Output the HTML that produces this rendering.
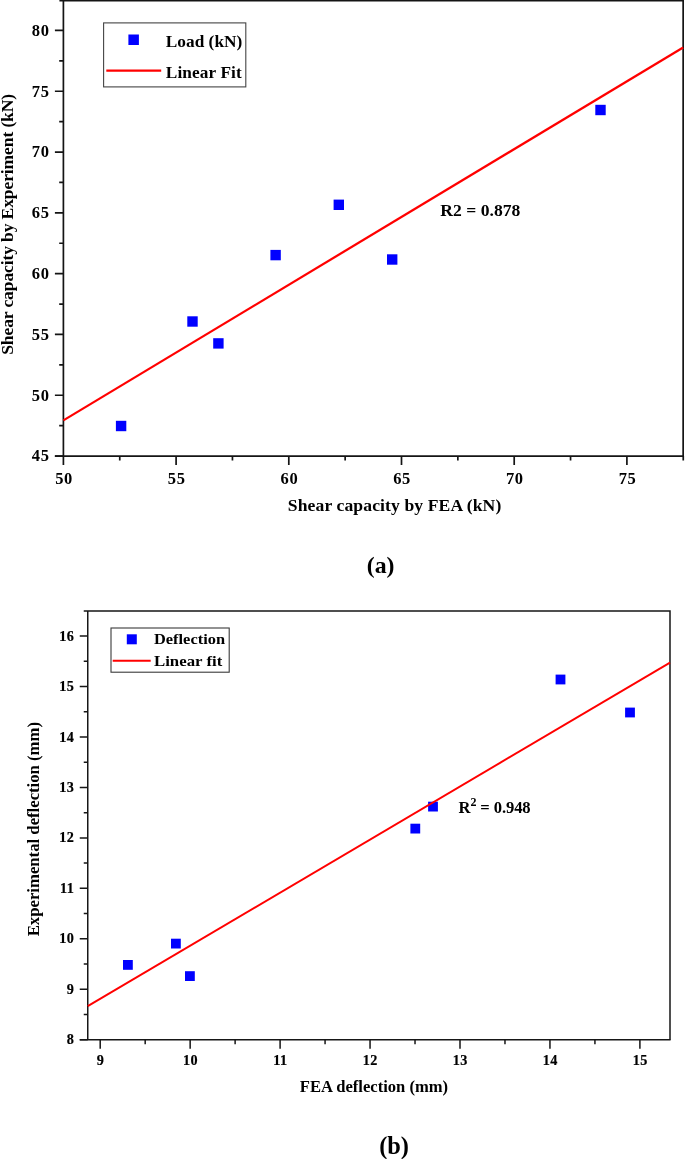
<!DOCTYPE html>
<html><head><meta charset="utf-8"><title>Linear fit charts</title>
<style>
html,body{margin:0;padding:0;background:#fff;}
body{width:685px;height:1159px;overflow:hidden;position:relative;}
svg{position:absolute;left:0;top:0;display:block;}
text{font-family:"Liberation Serif","Times New Roman",serif;font-weight:bold;fill:#000;}
#chartA .tk{font-size:16.5px;letter-spacing:0.6px;}
#chartA .ax{font-size:17.6px;}
#chartA .lg{font-size:17.3px;}
#chartB .tk{font-size:14.2px;letter-spacing:0.45px;stroke:#000;stroke-width:0.2px;}
#chartB .ax{font-size:15.4px;}
#chartB .lg{font-size:14.9px;}
.cap{font-size:23.8px;}
.ln{stroke:#000;fill:none;}
#chartA .ln{stroke-width:1.7;stroke:#141414;}
#chartB .ln{stroke-width:1.5;stroke:#161616;}
.red{stroke:#ff0000;fill:none;}
#chartA .red{stroke-width:2.25;}
#chartB .red{stroke-width:1.95;}
.pt{fill:#0000ff;}
.box{fill:#fff;stroke:#444;stroke-width:1.1;}
</style></head><body>
<svg width="685" height="1159" viewBox="0 0 685 1159">

<g id="chartA">
<path class="ln" d="M63.4 465.05V0.75M59.4 0.75H683.15V456.05"/>
<path class="ln" d="M54.9 456.05H683.85"/>
<text class="tk" x="49.5" y="461.35" text-anchor="end">45</text>
<text class="tk" x="49.5" y="400.55" text-anchor="end">50</text>
<text class="tk" x="49.5" y="339.75" text-anchor="end">55</text>
<text class="tk" x="49.5" y="278.95" text-anchor="end">60</text>
<text class="tk" x="49.5" y="218.15" text-anchor="end">65</text>
<text class="tk" x="49.5" y="157.35" text-anchor="end">70</text>
<text class="tk" x="49.5" y="96.55" text-anchor="end">75</text>
<text class="tk" x="49.5" y="35.75" text-anchor="end">80</text>
<text class="tk" x="64" y="484.05" text-anchor="middle">50</text>
<text class="tk" x="176.7" y="484.05" text-anchor="middle">55</text>
<text class="tk" x="289.4" y="484.05" text-anchor="middle">60</text>
<text class="tk" x="402.1" y="484.05" text-anchor="middle">65</text>
<text class="tk" x="514.8" y="484.05" text-anchor="middle">70</text>
<text class="tk" x="627.5" y="484.05" text-anchor="middle">75</text>
<path class="ln" d="M54.9 456.05H63.4M54.9 395.25H63.4M54.9 334.45H63.4M54.9 273.65H63.4M54.9 212.85H63.4M54.9 152.05H63.4M54.9 91.25H63.4M54.9 30.45H63.4M59.199999999999996 425.65H63.4M59.199999999999996 364.85H63.4M59.199999999999996 304.05H63.4M59.199999999999996 243.25H63.4M59.199999999999996 182.45H63.4M59.199999999999996 121.65H63.4M59.199999999999996 60.85H63.4M176.1 456.05V465.05M288.8 456.05V465.05M401.5 456.05V465.05M514.2 456.05V465.05M626.9 456.05V465.05M119.75 456.05V460.55M232.45 456.05V460.55M345.15 456.05V460.55M457.85 456.05V460.55M570.55 456.05V460.55M683.25 456.05V460.55"/>
<rect class="pt" x="115.89999999999999" y="420.8" width="10.4" height="10.4"/>
<rect class="pt" x="187.3" y="316.3" width="10.4" height="10.4"/>
<rect class="pt" x="213.20000000000002" y="338.2" width="10.4" height="10.4"/>
<rect class="pt" x="270.40000000000003" y="249.9" width="10.4" height="10.4"/>
<rect class="pt" x="333.6" y="199.60000000000002" width="10.4" height="10.4"/>
<rect class="pt" x="387.0" y="254.3" width="10.4" height="10.4"/>
<rect class="pt" x="595.3" y="104.8" width="10.4" height="10.4"/>
<path class="red" d="M63.4 420.4L683.15 47.5"/>
<rect class="box" x="103.6" y="22.9" width="142.2" height="64"/>
<rect class="pt" x="128.4" y="34.5" width="10.5" height="10.5"/>
<path class="red" d="M106.3 70.6H161.2"/>
<text class="lg" x="165.8" y="47.2" textLength="76.5">Load (kN)</text>
<text class="lg" x="165.8" y="78.1" textLength="76">Linear Fit</text>
<text class="ax" x="440.3" y="216.3" textLength="80">R2 = 0.878</text>
<text class="ax" x="287.8" y="510.6" textLength="213.5">Shear capacity by FEA (kN)</text>
<text class="ax" transform="translate(13,354.8) rotate(-90)" textLength="261">Shear capacity by Experiment (kN)</text>
<text class="cap" x="380.6" y="573" text-anchor="middle">(a)</text>
</g>
<g id="chartB">
<path class="ln" d="M87.75 1039.7V611.0M83.75 611.0H670.0V1039.7"/>
<path class="ln" d="M79.75 1039.7H670.6"/>
<text class="tk" x="74.3" y="1044.2" text-anchor="end">8</text>
<text class="tk" x="74.3" y="993.75" text-anchor="end">9</text>
<text class="tk" x="74.3" y="943.3" text-anchor="end">10</text>
<text class="tk" x="74.3" y="892.85" text-anchor="end">11</text>
<text class="tk" x="74.3" y="842.4" text-anchor="end">12</text>
<text class="tk" x="74.3" y="791.95" text-anchor="end">13</text>
<text class="tk" x="74.3" y="741.5" text-anchor="end">14</text>
<text class="tk" x="74.3" y="691.05" text-anchor="end">15</text>
<text class="tk" x="74.3" y="640.6" text-anchor="end">16</text>
<text class="tk" x="100.5" y="1065.4" text-anchor="middle">9</text>
<text class="tk" x="190.45" y="1065.4" text-anchor="middle">10</text>
<text class="tk" x="280.4" y="1065.4" text-anchor="middle">11</text>
<text class="tk" x="370.35" y="1065.4" text-anchor="middle">12</text>
<text class="tk" x="460.3" y="1065.4" text-anchor="middle">13</text>
<text class="tk" x="550.25" y="1065.4" text-anchor="middle">14</text>
<text class="tk" x="640.2" y="1065.4" text-anchor="middle">15</text>
<path class="ln" d="M79.75 1039.7H87.75M79.75 989.25H87.75M79.75 938.8H87.75M79.75 888.35H87.75M79.75 837.9H87.75M79.75 787.45H87.75M79.75 737H87.75M79.75 686.55H87.75M79.75 636.1H87.75M83.75 1014.48H87.75M83.75 964.03H87.75M83.75 913.58H87.75M83.75 863.12H87.75M83.75 812.68H87.75M83.75 762.23H87.75M83.75 711.78H87.75M83.75 661.33H87.75M100.2 1039.7V1048.7M190.15 1039.7V1048.7M280.1 1039.7V1048.7M370.05 1039.7V1048.7M460 1039.7V1048.7M549.95 1039.7V1048.7M639.9 1039.7V1048.7M145.18 1039.7V1044.2M235.12 1039.7V1044.2M325.07 1039.7V1044.2M415.02 1039.7V1044.2M504.98 1039.7V1044.2M594.93 1039.7V1044.2"/>
<rect class="pt" x="123.0" y="960.0" width="9.8" height="9.8"/>
<rect class="pt" x="171.0" y="938.7" width="9.8" height="9.8"/>
<rect class="pt" x="185.0" y="971.2" width="9.8" height="9.8"/>
<rect class="pt" x="410.40000000000003" y="823.7" width="9.8" height="9.8"/>
<rect class="pt" x="428.1" y="801.7" width="9.8" height="9.8"/>
<rect class="pt" x="555.6" y="674.6" width="9.8" height="9.8"/>
<rect class="pt" x="625.1" y="707.6" width="9.8" height="9.8"/>
<path class="red" d="M87.75 1006.1L670.0 662.6"/>
<rect class="box" style="stroke:#3a3a3a" x="111" y="628" width="118.2" height="44.2"/>
<rect class="pt" x="126.8" y="634.3" width="10" height="10"/>
<path class="red" d="M112.7 660.8H150.7"/>
<text class="lg" x="154" y="644.2" textLength="71" lengthAdjust="spacingAndGlyphs">Deflection</text>
<text class="lg" x="154" y="665.7" textLength="68.3" lengthAdjust="spacingAndGlyphs">Linear fit</text>
<text class="ax" style="font-size:16.6px" x="458.6" y="813.2" textLength="72">R<tspan dy="-7.6" font-size="12">2</tspan><tspan dy="7.6"> = 0.948</tspan></text>
<text class="ax" style="font-size:15.8px" x="299.8" y="1091.8" textLength="148.3" lengthAdjust="spacingAndGlyphs">FEA deflection (mm)</text>
<text class="ax" style="font-size:16.8px" transform="translate(38.8,936.3) rotate(-90)" textLength="214.4">Experimental deflection (mm)</text>
<text class="cap" style="font-size:24.4px" x="394.1" y="1153.5" text-anchor="middle">(b)</text>
</g>
</svg></body></html>
